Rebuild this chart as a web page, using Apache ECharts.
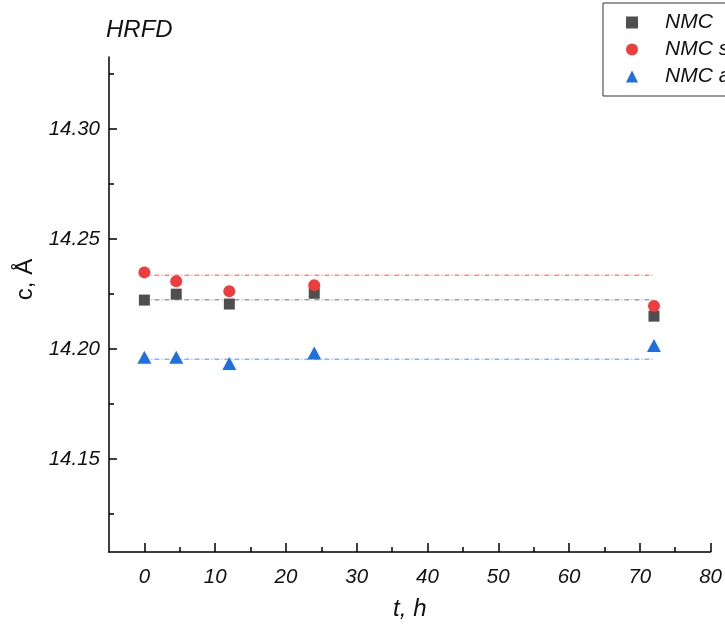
<!DOCTYPE html>
<html>
<head>
<meta charset="utf-8">
<script src="https://cdn.jsdelivr.net/npm/echarts@6/dist/echarts.min.js"></script>
<style>html,body{margin:0;padding:0;background:#fff}#chart{width:725px;height:626px}</style>
</head>
<body>
<div id="chart"></div>
<script>
// Data
const tHours = [0, 4.5, 12, 24, 72];
const seriesNames = ['NMC', 'NMC stored', 'NMC aged'];
const nmcValues = [14.2222, 14.2249, 14.2204, 14.2253, 14.2149];
const nmcStoredValues = [14.2348, 14.2308, 14.2262, 14.2290, 14.2195];
const nmcAgedValues = [14.1962, 14.1962, 14.1934, 14.1982, 14.2016];
const refLineValues = [14.2224, 14.2335, 14.1953];
const refLineRange = [0, 72];
const xTickLabels = [0, 10, 20, 30, 40, 50, 60, 70, 80];
const xMinorTicks = [5, 15, 25, 35, 45, 55, 65, 75];
const yTickLabels = [14.15, 14.20, 14.25, 14.30];
const yMinorTicks = [14.125, 14.175, 14.225, 14.275, 14.325];

const FONT = '"Liberation Sans", Arial, sans-serif';
const colors = ['#4f4f4f', '#f03c3c', '#1f6fe0'];
const refColors = ['#8a8a8a', '#f07070', '#6f9fe8'];
const symbols = ['rect', 'circle', 'triangle'];
const symbolSizes = [11, 12, [14, 13]];
const valueSets = [nmcValues, nmcStoredValues, nmcAgedValues];

const chart = echarts.init(document.getElementById('chart'), null, {renderer: 'canvas'});

const xMin = -5, xMax = 80, yMin = 14.1077, yMax = 14.3327;

const series = [];
valueSets.forEach((vals, i) => {
  series.push({
    name: seriesNames[i] + '_ref',
    type: 'line',
    xAxisIndex: 0, yAxisIndex: 0,
    data: refLineRange.map(t => [t, refLineValues[i]]),
    symbol: 'none',
    silent: true,
    lineStyle: {color: refColors[i], width: 1.5, type: [5, 2, 1, 2], opacity: 0.8},
    z: 1
  });
});
valueSets.forEach((vals, i) => {
  series.push({
    name: seriesNames[i],
    type: 'scatter',
    xAxisIndex: 0, yAxisIndex: 0,
    data: tHours.map((t, j) => [t, vals[j]]),
    symbol: symbols[i],
    symbolSize: symbolSizes[i],
    itemStyle: {color: colors[i], opacity: 1},
    z: 3 + i
  });
});

const labelStyle = {fontFamily: FONT, fontStyle: 'italic', fontSize: 20.5, color: '#111'};

chart.setOption({
  animation: false,
  backgroundColor: '#fff',
  title: {
    text: 'HRFD', left: 101, top: 13,
    textStyle: {fontFamily: FONT, fontStyle: 'italic', fontWeight: 'normal', fontSize: 24, color: '#111'}
  },
  legend: {
    data: seriesNames.map((n, i) => ({name: n, icon: symbols[i]})),
    orient: 'vertical',
    left: 603, top: 3,
    padding: [9, 40, 9, 23],
    itemWidth: 12, itemHeight: 12,
    itemGap: 6,
    borderColor: '#333', borderWidth: 1,
    textStyle: {fontFamily: FONT, fontStyle: 'italic', fontSize: 21, lineHeight: 21, color: '#111', padding: [0, 0, 0, 22]}
  },
  grid: {left: 109, right: 12, top: 57, bottom: 73, containLabel: false},
  xAxis: [{
    type: 'value', min: xMin, max: xMax,
    name: 't, h', nameLocation: 'middle', nameGap: 45,
    nameTextStyle: {fontFamily: FONT, fontStyle: 'italic', fontSize: 24, color: '#111'},
    axisLine: {show: true, onZero: false, lineStyle: {color: '#000', width: 1.5}},
    axisTick: {show: true, inside: true, length: 9, customValues: xTickLabels, lineStyle: {color: '#000', width: 1.5}},
    axisLabel: Object.assign({show: true, margin: 15, customValues: xTickLabels}, labelStyle),
    splitLine: {show: false}
  }, {
    type: 'value', min: xMin, max: xMax, position: 'bottom',
    axisLine: {show: false, onZero: false},
    axisTick: {show: true, inside: true, length: 5, customValues: xMinorTicks, lineStyle: {color: '#000', width: 1.5}},
    axisLabel: {show: false},
    splitLine: {show: false}
  }],
  yAxis: [{
    type: 'value', min: yMin, max: yMax,
    name: 'c, Å', nameLocation: 'middle', nameGap: 72, nameRotate: 90,
    nameTextStyle: {fontFamily: FONT, fontSize: 24, color: '#111', padding: [0, 0, 0, 50]},
    axisLine: {show: true, onZero: false, lineStyle: {color: '#000', width: 1.5}},
    axisTick: {show: true, inside: true, length: 8, customValues: yTickLabels, lineStyle: {color: '#000', width: 1.5}},
    axisLabel: Object.assign({show: true, margin: 9, customValues: yTickLabels, formatter: v => v.toFixed(2)}, labelStyle),
    splitLine: {show: false}
  }, {
    type: 'value', min: yMin, max: yMax, position: 'left',
    axisLine: {show: false, onZero: false},
    axisTick: {show: true, inside: true, length: 5, customValues: yMinorTicks, lineStyle: {color: '#000', width: 1.5}},
    axisLabel: {show: false},
    splitLine: {show: false}
  }],
  series: series
});
</script>
</body>
</html>
